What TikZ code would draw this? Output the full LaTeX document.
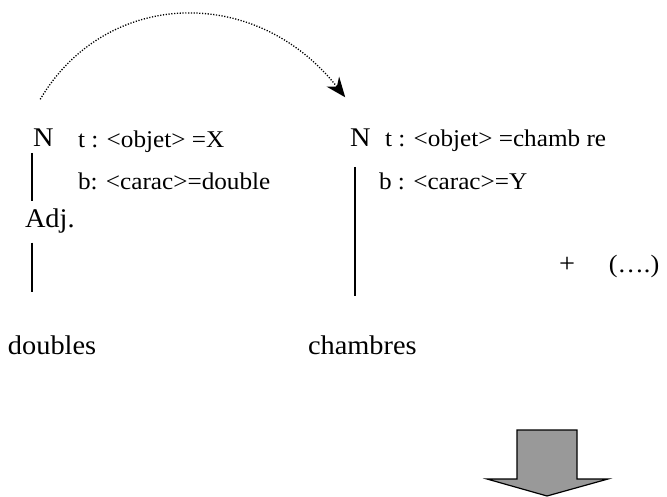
\documentclass[tikz,border=0pt]{standalone}
\usepackage{fontspec}
\setmainfont{Liberation Serif}[FakeStretch=1.05]
\usetikzlibrary{arrows.meta, positioning}
\definecolor{blockgray}{RGB}{153,153,153}

\begin{document}
\begin{tikzpicture}[x=1pt, y=1pt,
    every node/.style={inner sep=0pt, outer sep=0pt},
    big/.style={font=\fontsize{27}{30}\selectfont},
    small/.style={font=\fontsize{24}{27}\selectfont},
    mid/.style={font=\fontsize{25}{28}\selectfont},
    branch/.style={line width=1.2pt},
    hop/.style={line width=1.3pt, dash pattern=on 1.2pt off 1.6pt, -{Stealth[length=20pt,width=16pt]}}]
    \useasboundingbox (0,0) rectangle (667,496);
    % left tree
    \node[big, anchor=base west] (nL) at (33,349) {N};
    \node[small, anchor=base west] (tL) at (78,348) {t : <objet> =X};
    \node[small, anchor=base west] (bL) at (78,306) {b: <carac>=double};
    \node[big, anchor=base west] (adj) at (25,268) {Adj.};
    \node[big, anchor=base west] (doubles) at (8,142) {doubles};
    % right tree
    \node[big, anchor=base west] (nR) at (350,349) {N};
    \node[small, anchor=base west] (tR) at (385,349) {t : <objet> =chamb re};
    \node[small, anchor=base west] (bR) at (379,306) {b : <carac>=Y};
    \node[big, anchor=base west] (chambres) at (308,142) {chambres};
    \node[big, anchor=base west] (plus) at (559,223) {+};
    \node[mid, right=34pt of plus.base east, anchor=base west] (more) {(….)};
    \draw[branch] ([xshift=-1pt,yshift=-6pt]nL.south west) -- ([xshift=-1pt,yshift=8pt]adj.north -| nL.south west);
    \draw[branch] ([xshift=-1pt,yshift=-9pt]adj.south -| nL.south west) -- ([xshift=-1pt,yshift=43pt]doubles.north -| nL.south west);
    \draw[branch] ([xshift=5pt,yshift=-20pt]nR.south west) -- ([xshift=5pt,yshift=39pt]chambres.north -| nR.south west);
    \draw[hop] ([xshift=-3pt,yshift=30pt]nL.north) .. controls +(65,110) and +(-90,114) .. ([xshift=-15pt,yshift=32pt]nR.north);
    % block arrow
    \draw[line width=1.2pt, fill=blockgray] (517,66) -- (577,66) -- (577,17) -- (608,17) -- (547,0) -- (487,17) -- (517,17) -- cycle;
\end{tikzpicture}
\end{document}
